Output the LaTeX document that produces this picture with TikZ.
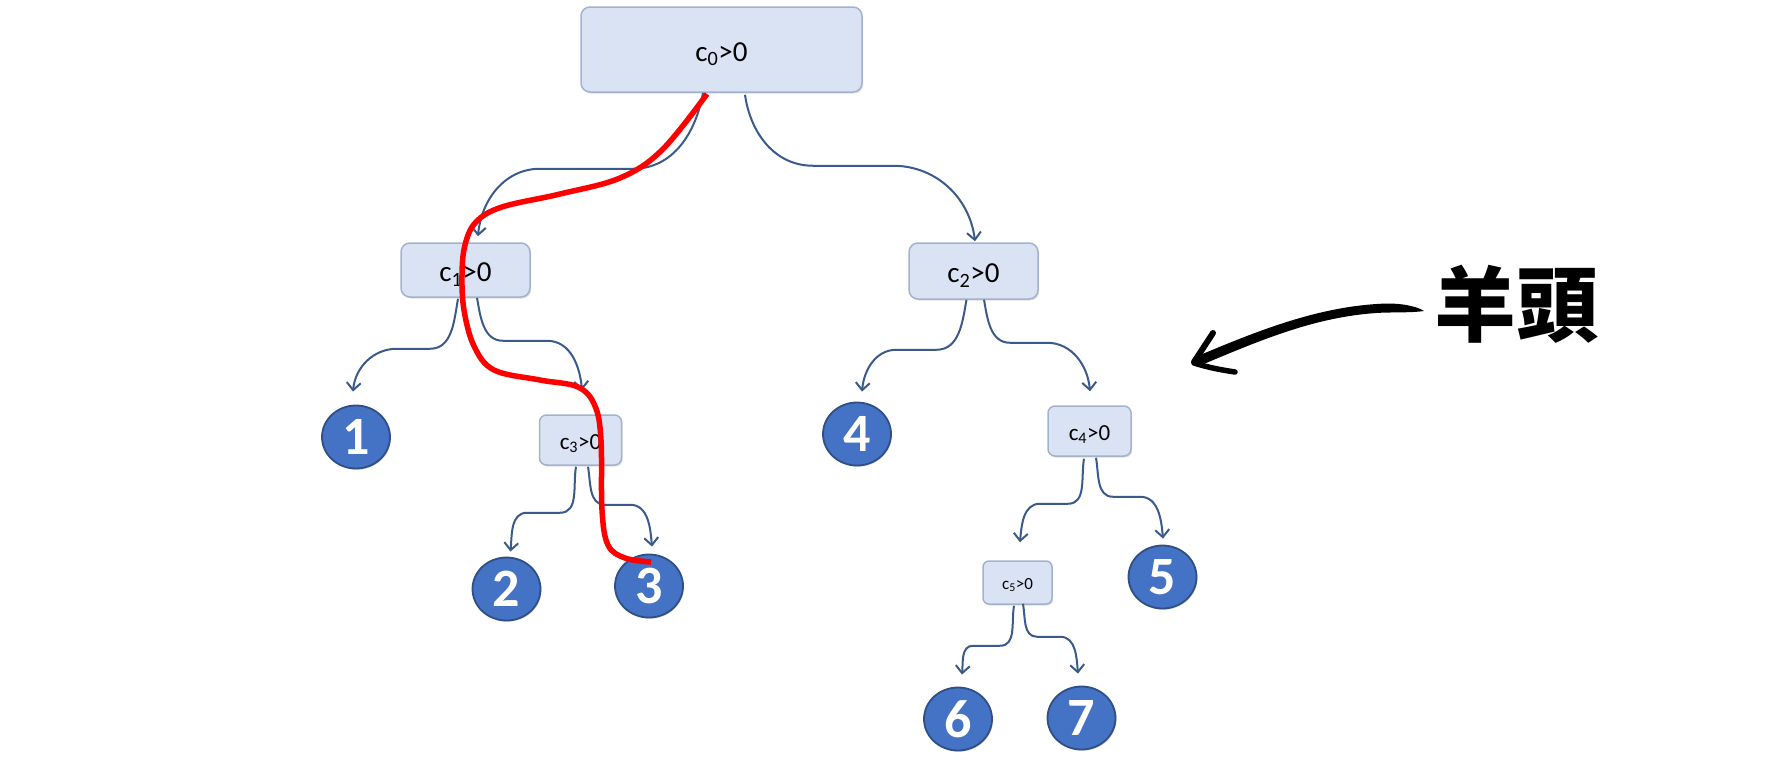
\documentclass[tikz,border=0pt]{standalone}
\usepackage{fontspec}
\setmainfont{Carlito}
\newfontfamily\cjkfont{Noto Sans CJK TC}
\usetikzlibrary{arrows.meta,shadows,shapes.geometric}
\definecolor{boxfill}{HTML}{DAE3F3}
\definecolor{boxline}{HTML}{A3B3CF}
\definecolor{leaffill}{HTML}{4472C4}
\definecolor{leafline}{HTML}{2F4F86}
\definecolor{connblue}{HTML}{3B5A8C}
\begin{document}
\begin{tikzpicture}[x=1pt,y=1pt,
  cbox/.style={draw=boxline, fill=boxfill, line width=1.5pt, rounded corners=9pt,
    inner sep=0pt, text depth=0pt,
    drop shadow={shadow xshift=1.2pt,shadow yshift=-1.5pt,opacity=0.25}},
  bigtext/.style={font=\fontsize{29}{31}\selectfont, text height=23pt},
  midtext/.style={font=\fontsize{23}{25}\selectfont, text height=18.5pt},
  smalltext/.style={font=\fontsize{17}{19}\selectfont, text height=13.5pt},
  leaf/.style={ellipse, draw=leafline, fill=leaffill, line width=1.8pt, inner sep=0pt,
    minimum width=68pt, minimum height=63pt, text=white,
    font=\fontsize{54}{54}\selectfont\bfseries,
    drop shadow={shadow xshift=1pt,shadow yshift=-1.2pt,opacity=0.35}},
  conn/.style={draw=connblue, line width=2pt, -{Straight Barb[length=7.5pt,width=14pt]}},
  redpath/.style={draw=red, line width=5.5pt},
  brush/.style={fill=black, draw=none}
]
\useasboundingbox (0,0) rectangle (1792,-769);

% decision boxes
\node[cbox, bigtext, minimum width=281pt, minimum height=85pt] (r) at (721.5,-49.5) {c\textsubscript{0}>0};
\node[cbox, bigtext, minimum width=129pt, minimum height=54pt] (c1) at (465.5,-270) {c\textsubscript{1}>0};
\node[cbox, bigtext, minimum width=129pt, minimum height=56pt] (c2) at (973.5,-271) {c\textsubscript{2}>0};
\node[cbox, midtext, minimum width=82pt, minimum height=50pt, rounded corners=7pt] (c3) at (580.5,-440) {c\textsubscript{3}>0};
\node[cbox, midtext, minimum width=83pt, minimum height=50pt, rounded corners=7pt] (c4) at (1089.5,-431) {c\textsubscript{4}>0};
\node[cbox, smalltext, minimum width=69pt, minimum height=43pt, rounded corners=6pt] (c5) at (1017.5,-582.5) {c\textsubscript{5}>0};

% leaves
\node[leaf] (n1) at (356,-437) {1};
\node[leaf] (n2) at (506.5,-589) {2};
\node[leaf] (n3) at (649,-586) {3};
\node[leaf] (n4) at (857,-434) {4};
\node[leaf] (n5) at (1162.5,-577) {5};
\node[leaf] (n6) at (958,-719) {6};
\node[leaf] (n7) at (1081.5,-718) {7};

% connectors
\draw[conn] ([xshift=-18.5pt]r.south) to[out=-100,in=0] ++(-70,-76) -- ++(-93,0) to[out=180,in=85] ([xshift=12.5pt,yshift=6pt]c1.north);
\draw[conn] ([xshift=23.5pt,yshift=-2pt]r.south) to[out=-82,in=180] ++(68,-71) -- ++(80,0) to[out=0,in=97] ([xshift=1.5pt,yshift=1pt]c2.north);

\draw[conn] ([xshift=-7.5pt,yshift=-1pt]c1.south) to[out=-100,in=0] ++(-28,-50) -- ++(-33,0) to[out=180,in=85] ([xshift=-3pt,yshift=13pt]n1.north);
\draw[conn] ([xshift=11.5pt]c1.south) to[out=-80,in=180] ++(26,-43) -- ++(44,0) to[out=0,in=95] ([xshift=1.5pt,yshift=24pt]c3.north);

\draw[conn] ([xshift=-7pt]c2.south) to[out=-100,in=0] ++(-30,-50) -- ++(-40,0) to[out=180,in=85] ([xshift=5pt,yshift=10pt]n4.north);
\draw[conn] ([xshift=10.5pt]c2.south) to[out=-80,in=180] ++(26,-43) -- ++(37,0) to[out=0,in=95] ([xshift=0.5pt,yshift=14pt]c4.north);

\draw[conn] ([xshift=-4.5pt,yshift=-1pt]c3.south) to[out=-100,in=0] ++(-16,-46) -- ++(-33,0) to[out=180,in=85] ([xshift=4pt,yshift=5pt]n2.north);
\draw[conn] ([xshift=7.5pt,yshift=-1pt]c3.south) to[out=-80,in=180] ++(17,-38) -- ++(25,0) to[out=0,in=95] ([xshift=3pt,yshift=7pt]n3.north);

\draw[conn] ([xshift=-5.5pt,yshift=-2pt]c4.south) to[out=-100,in=0] ++(-16,-45) -- ++(-28,0) to[out=180,in=85] ([xshift=2.5pt,yshift=18pt]c5.north);
\draw[conn] ([xshift=6.5pt,yshift=-1pt]c4.south) to[out=-80,in=180] ++(17,-39) -- ++(27,0) to[out=0,in=95] ([xshift=0.5pt,yshift=6pt]n5.north);

\draw[conn] ([xshift=-3.5pt,yshift=-1pt]c5.south) to[out=-100,in=0] ++(-14,-40) -- ++(-27,0) to[out=180,in=85] ([xshift=4pt,yshift=12pt]n6.north);
\draw[conn] ([xshift=5.5pt,yshift=1pt]c5.south) to[out=-80,in=180] ++(14,-33) -- ++(23,0) to[out=0,in=95] ([xshift=-3.5pt,yshift=12pt]n7.north);

% red decision path
\draw[redpath] plot[smooth, tension=0.6] coordinates {
 (707,-94) (662,-150) (620,-178) (560,-194) (502,-207) (476,-222) (465,-245)
 (462,-275) (464,-310) (474,-346) (494,-370) (540,-380) (578,-387) (595,-406)
 (601,-440) (602,-510) (608,-545) (625,-558) (651,-562)};

% hand-drawn arrow
\fill[brush] (1387,-303.5) .. controls (1320,-305.5) and (1258,-330.5) .. (1193,-358)
  -- (1199,-366) .. controls (1262,-339.5) and (1320,-314.5) .. (1387,-312.5)
  .. controls (1405,-312.5) and (1418,-312) .. (1424,-311)
  .. controls (1418,-307) and (1405,-303.5) .. (1387,-303.5) -- cycle;
\draw[line width=6pt, line cap=round] (1194,-362) -- (1213,-333);
\draw[line width=5.5pt, line cap=round] (1194,-363) .. controls (1210,-368) and (1222,-370) .. (1235,-372);

\node[font=\cjkfont\bfseries\fontsize{82}{82}\selectfont, inner sep=0pt] (label) at (1516,-304) {羊頭};
\end{tikzpicture}
\end{document}
